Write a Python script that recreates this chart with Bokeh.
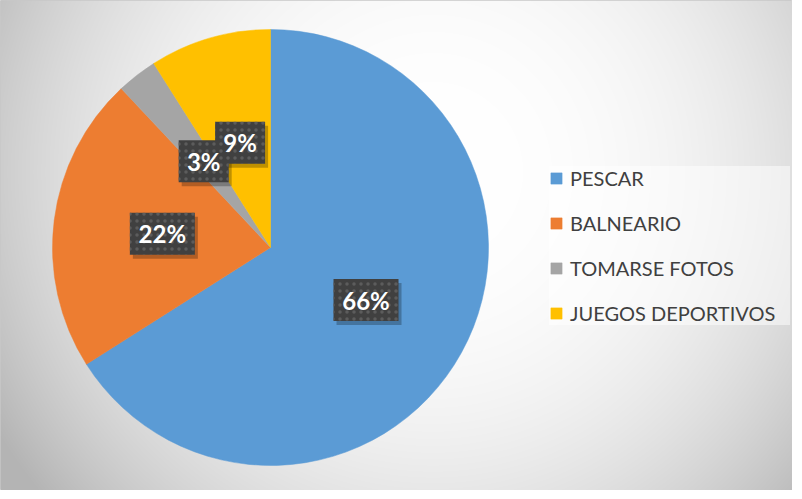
import numpy as np
from math import pi
from bokeh.plotting import figure
from bokeh.models import Range1d, ColumnDataSource, Legend, LegendItem
from bokeh.core.properties import value
from bokeh.embed import file_html
from bokeh.resources import INLINE

# ---- data ----
categories = ["PESCAR", "BALNEARIO", "TOMARSE FOTOS", "JUEGOS DEPORTIVOS"]
percents = [66, 22, 3, 9]
colors = ["#5B9BD5", "#ED7D31", "#A5A5A5", "#FFC000"]

W, H = 792, 490
CX, CY, R = 270, 243, 218

p = figure(width=W, height=H, x_range=Range1d(0, W), y_range=Range1d(0, H),
           output_backend="svg", toolbar_location=None,
           x_axis_location=None, y_axis_location=None, min_border=0)
p.grid.visible = False
p.outline_line_color = "#c8c8c8"
p.outline_line_width = 1
p.background_fill_color = "#e6e6e6"
p.border_fill_color = "white"

# background radial gradient
yy, xx = np.mgrid[0:H, 0:W]
gx, gy = 432, 318
d = np.sqrt((xx - gx) ** 2 + (yy - gy) ** 2) / 475.0
v = np.clip(255 - 63 * np.clip(d, 0, 1.1) ** 2.5, 180, 255).astype(np.uint32)
img = (255 << 24) | (v << 16) | (v << 8) | v
p.image_rgba(image=[img.astype(np.uint32)], x=0, y=0, dw=W, dh=H)

# wedges
total = float(sum(percents))
fr = np.array(percents) / total
cum = np.concatenate([[0], np.cumsum(fr)])
start = pi / 2 - 2 * pi * cum[:-1]
end = pi / 2 - 2 * pi * cum[1:]
mid = (start + end) / 2
src = ColumnDataSource(dict(cat=categories, pct=percents, color=colors,
                            start=start, end=end))
wr = p.wedge(x=CX, y=CY, radius=R, start_angle="start", end_angle="end",
             direction="clock", fill_color="color", line_color="color",
             line_width=0.5, source=src)

# labels
labels = [f"{v}%" for v in percents]
lx = CX + 0.5 * R * np.cos(mid)
ly = CY + 0.5 * R * np.sin(mid)
bw = [15 * len(s) + 20 for s in labels]
lsrc = ColumnDataSource(dict(x=lx, y=ly, sx=lx + 3, sy=ly - 4, w=bw, text=labels))
p.rect(x="sx", y="sy", width="w", height=42, source=lsrc,
       fill_color="black", fill_alpha=0.25, line_color=None)
p.rect(x="x", y="y", width="w", height=42, source=lsrc,
       fill_color="#404040", line_color=None,
       hatch_pattern="dot", hatch_color="#5c5c5c", hatch_scale=7, hatch_weight=1.5)
p.text(x="x", y="y", text="text", source=lsrc, text_color="white",
       text_font=value("Lato"), text_font_style="bold", text_font_size="24px",
       text_align="center", text_baseline="middle")

# legend
items = [LegendItem(label=c, renderers=[wr], index=i) for i, c in enumerate(categories)]
legend = Legend(items=items, location=(549, 165), orientation="vertical",
                glyph_width=14, glyph_height=14, label_height=22,
                label_standoff=7, spacing=21, padding=14, margin=0,
                label_width=220,
                label_text_font="Lato", label_text_font_size="20px",
                label_text_color="#404040",
                background_fill_color="#ffffff", background_fill_alpha=0.5,
                border_line_color=None)
p.add_layout(legend)

open("out.html", "w").write(file_html(p, INLINE))
